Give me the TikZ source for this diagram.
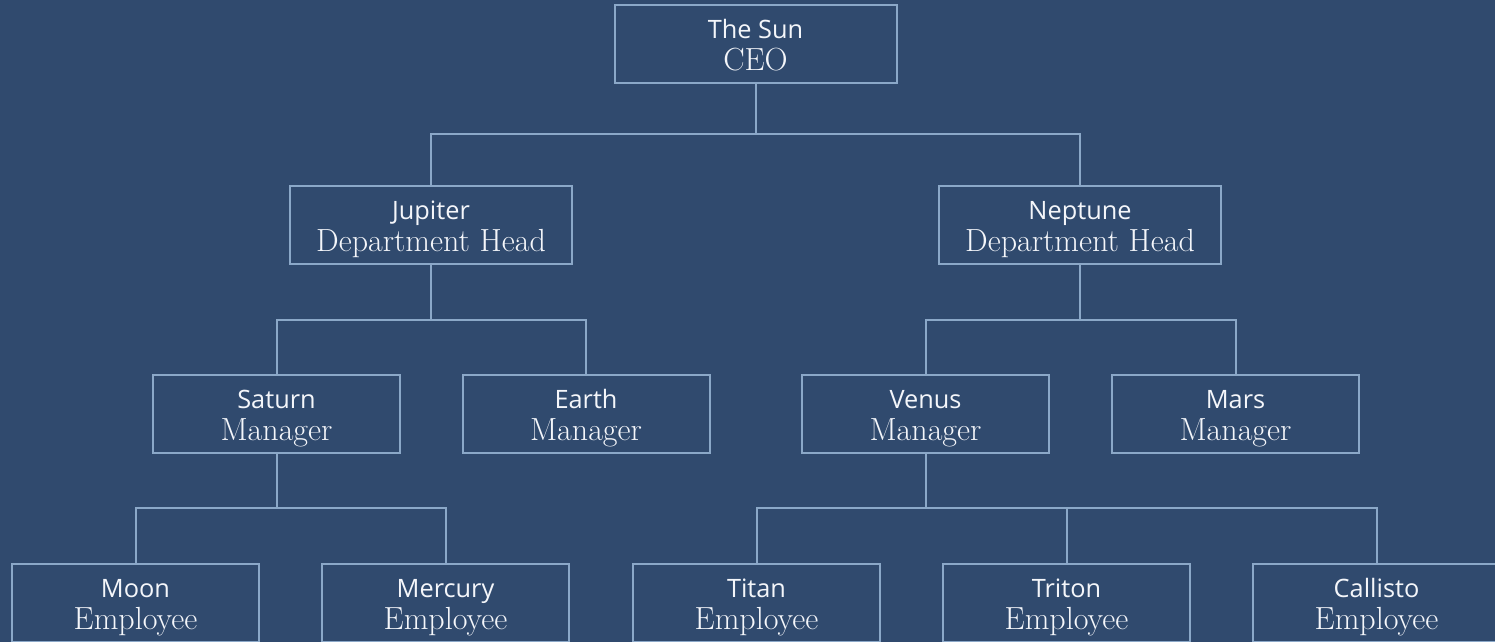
\documentclass[tikz,border=0pt]{standalone}
\usepackage{fontspec}
\newfontfamily\toplinefont{Open Sans}
\definecolor{bgc}{HTML}{304A6E}
\definecolor{linec}{HTML}{8BA8C8}
\definecolor{txtc}{HTML}{F4F6FA}
\newcommand{\orgtext}[2]{\rule{0pt}{22pt}{\toplinefont\fontsize{19}{24}\selectfont #1}\\\rule[-7pt]{0pt}{7pt}#2}
\tikzset{
  orgbox/.style={draw=linec, line width=1.5pt, fill=bgc, text=txtc, align=center,
    font=\fontsize{24}{24}\selectfont,
    minimum width=185.25pt, minimum height=58.5pt, inner sep=0pt, rectangle},
  wide/.style={minimum width=211.5pt},
  conn/.style={draw=linec, line width=1.5pt}
}
\begin{document}
\begin{tikzpicture}[x=0.75pt, y=-0.75pt]
\fill[bgc] (0,0) rectangle (1495,642);
\useasboundingbox (0,0) rectangle (1495,642);
\clip (0,0) rectangle (1495,642);
% nodes
\node[orgbox, wide] (sun) at (755.5,44) {\orgtext{The Sun}{CEO}};
\node[orgbox, wide] (jup) at (431,225) {\orgtext{Jupiter}{Department Head}};
\node[orgbox, wide] (nep) at (1080,225) {\orgtext{Neptune}{Department Head}};
\node[orgbox] (sat) at (276.5,414) {\orgtext{Saturn}{Manager}};
\node[orgbox] (ear) at (586,414) {\orgtext{Earth}{Manager}};
\node[orgbox] (ven) at (925.5,414) {\orgtext{Venus}{Manager}};
\node[orgbox] (mar) at (1235.5,414) {\orgtext{Mars}{Manager}};
\node[orgbox] (moo) at (135.5,603) {\orgtext{Moon}{Employee}};
\node[orgbox] (mer) at (445.5,603) {\orgtext{Mercury}{Employee}};
\node[orgbox] (tit) at (756.5,603) {\orgtext{Titan}{Employee}};
\node[orgbox] (tri) at (1066.5,603) {\orgtext{Triton}{Employee}};
\node[orgbox] (cal) at (1376.5,603) {\orgtext{Callisto}{Employee}};
% bus coordinates
\coordinate (b1) at (755.5,134);
\coordinate (b2) at (431,320);
\coordinate (b3) at (1080,320);
\coordinate (b4) at (276.5,508);
\coordinate (b5) at (925.5,508);
% connectors
\draw[conn] (sun.south) -- (b1);
\draw[conn] (jup.north) |- (b1) -| (nep.north);
\draw[conn] (jup.south) -- (b2);
\draw[conn] (sat.north) |- (b2) -| (ear.north);
\draw[conn] (nep.south) -- (b3);
\draw[conn] (ven.north) |- (b3) -| (mar.north);
\draw[conn] (sat.south) -- (b4);
\draw[conn] (moo.north) |- (b4) -| (mer.north);
\draw[conn] (ven.south) -- (b5);
\draw[conn] (tit.north) |- (b5) -| (cal.north);
\draw[conn] (b5) -| (tri.north);
\end{tikzpicture}
\end{document}
